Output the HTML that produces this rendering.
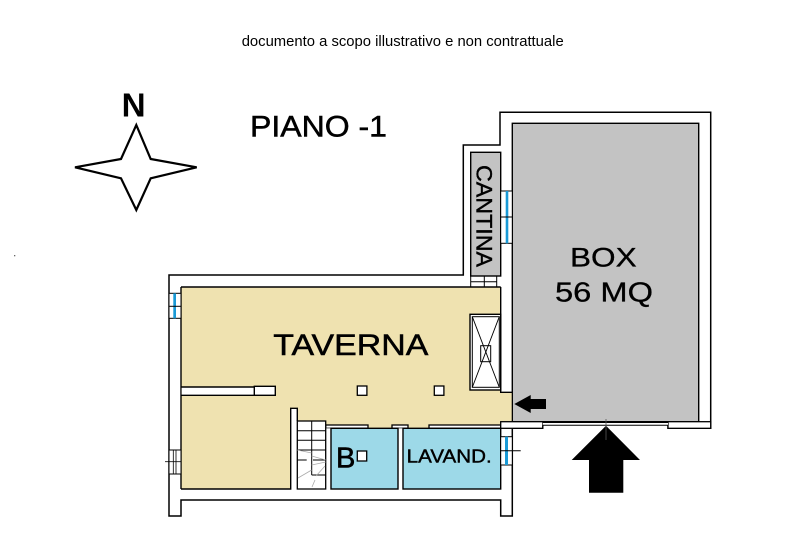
<!DOCTYPE html>
<html>
<head>
<meta charset="utf-8">
<style>
html,body{margin:0;padding:0;background:#fff;}
svg{display:block;}
text{font-family:"Liberation Sans",Arial,sans-serif;fill:#000;}
</style>
</head>
<body>
<svg width="786" height="543" viewBox="0 0 786 543" xmlns="http://www.w3.org/2000/svg">
<rect x="0" y="0" width="786" height="543" fill="#fff"/>

<!-- header text -->
<text x="241.7" y="46" font-size="15" textLength="322" lengthAdjust="spacingAndGlyphs">documento a scopo illustrativo e non contrattuale</text>

<!-- compass -->
<text x="121.7" y="116.7" font-size="33" font-weight="bold" textLength="24" lengthAdjust="spacingAndGlyphs">N</text>
<path d="M136.3,125 L150.7,159 L196.7,167.3 L150.7,178.3 L136.3,210 L121,178.3 L75,167.3 L121,159 Z" fill="#fff" stroke="#000" stroke-width="2.2" stroke-linejoin="miter"/>

<text x="250" y="136.7" font-size="30" stroke="#000" stroke-width="0.5" textLength="137" lengthAdjust="spacingAndGlyphs">PIANO -1</text>

<rect x="14" y="255" width="1.3" height="1.3" fill="#666"/>

<!-- outer outline -->
<path d="M169,275 H463.3 V145 H500 V112.3 H710.7 V428.3 H668 V421.7 H542.7 V428.3 H512.3 V516 H500.7 V500 H181 V516 H169 Z" fill="#fff" stroke="#000" stroke-width="1.5"/>

<!-- box -->
<rect x="512.3" y="123.3" width="186.4" height="298.4" fill="#c3c3c3" stroke="#000" stroke-width="1.4"/>

<!-- cantina -->
<rect x="470.7" y="152.3" width="30" height="123.7" fill="#c3c3c3" stroke="#000" stroke-width="1.4"/>
<g stroke="#000" stroke-width="1" fill="none">
<line x1="470.7" y1="276" x2="470.7" y2="287"/>
<line x1="484.3" y1="276" x2="484.3" y2="287"/>
<line x1="496.7" y1="276" x2="496.7" y2="287"/>
<line x1="470.7" y1="281.7" x2="496.7" y2="281.7"/>
</g>

<!-- beige taverna -->
<path d="M181,287 H500.7 V392.3 H512.3 V429 H297.3 V408.3 H290.7 V489 H181 Z" fill="#efe2b0"/>

<!-- taverna edges -->
<g stroke="#000" stroke-width="1.4" fill="none">
<line x1="181" y1="287" x2="500.7" y2="287"/>
<polyline points="500.7,287 500.7,392.3 512.3,392.3"/>
<line x1="181" y1="287" x2="181" y2="489"/>
<polyline points="181,489 290.7,489 290.7,408.3 297.3,408.3 297.3,421"/>
</g>

<!-- divider wall -->
<rect x="181.7" y="387" width="73" height="8.3" fill="#fff"/>
<g stroke="#000" stroke-width="1.4">
<line x1="181" y1="387" x2="254.3" y2="387"/>
<line x1="181" y1="395.3" x2="254.3" y2="395.3"/>
</g>
<rect x="254.3" y="386.3" width="21" height="9" fill="#fff" stroke="#000" stroke-width="1.4"/>

<!-- pillars -->
<rect x="357.3" y="386" width="9.6" height="9.3" fill="#fff" stroke="#000" stroke-width="1.3"/>
<rect x="434.3" y="386" width="9.6" height="9.3" fill="#fff" stroke="#000" stroke-width="1.3"/>

<!-- shaft -->
<rect x="470" y="314.3" width="30.7" height="75.7" fill="#fff" stroke="#000" stroke-width="1.4"/>
<rect x="472.3" y="316.7" width="27" height="70.6" fill="#fff" stroke="#000" stroke-width="1"/>
<g stroke="#000" stroke-width="0.9">
<line x1="472.3" y1="316.7" x2="499.3" y2="387.3"/>
<line x1="499.3" y1="316.7" x2="472.3" y2="387.3"/>
</g>
<rect x="480.7" y="345.7" width="10" height="16" fill="none" stroke="#000" stroke-width="1"/>

<!-- wall blocks between taverna and rooms -->
<rect x="325.7" y="425" width="42.3" height="3.3" fill="#fff" stroke="#000" stroke-width="1.3"/>
<rect x="392" y="425" width="16" height="3.3" fill="#fff" stroke="#000" stroke-width="1.3"/>
<rect x="429" y="425" width="71.7" height="3.3" fill="#fff" stroke="#000" stroke-width="1.3"/>

<!-- walls white below -->
<rect x="325.7" y="428.3" width="5.3" height="61" fill="#fff"/>
<rect x="398" y="428.3" width="5" height="61" fill="#fff"/>

<!-- rooms B and lavand -->
<rect x="331" y="428.3" width="67" height="60.7" fill="#9dd9e8" stroke="#000" stroke-width="1.4"/>
<rect x="403" y="428.3" width="97.7" height="60.7" fill="#9dd9e8" stroke="#000" stroke-width="1.4"/>
<rect x="357.3" y="451" width="9.4" height="10" fill="#fff" stroke="#000" stroke-width="1.3"/>

<!-- stairs -->
<rect x="297.3" y="421" width="28.4" height="68" fill="#fff" stroke="#000" stroke-width="1.3"/>
<g stroke="#000" stroke-width="1">
<line x1="297.3" y1="430.7" x2="325.7" y2="430.7"/>
<line x1="297.3" y1="440.3" x2="325.7" y2="440.3"/>
<line x1="297.3" y1="450" x2="325.7" y2="450"/>
<line x1="311.7" y1="421" x2="311.7" y2="475"/>
<line x1="311.7" y1="475" x2="325.7" y2="475"/>
<line x1="297.3" y1="460" x2="306.7" y2="460"/>
<line x1="313" y1="460" x2="325.7" y2="460"/>
</g>
<g stroke="#aaa" stroke-width="0.8">
<line x1="297.3" y1="450" x2="311.7" y2="453"/>
<line x1="311.7" y1="456" x2="325.7" y2="460"/>
<line x1="311.7" y1="465" x2="325.7" y2="462"/>
<line x1="298" y1="478" x2="311.7" y2="470"/>
<line x1="312" y1="487" x2="315" y2="480"/>
<line x1="316" y1="476" x2="325" y2="466"/>
</g>

<!-- left windows -->
<rect x="169" y="293.3" width="12" height="25" fill="#fff" stroke="#000" stroke-width="1"/>
<rect x="173.3" y="293.3" width="2.7" height="25" fill="#1a9ad6"/>
<line x1="169" y1="306.3" x2="181" y2="306.3" stroke="#000" stroke-width="1"/>
<rect x="169" y="450" width="12" height="24" fill="#fff" stroke="#000" stroke-width="1"/>
<line x1="173.3" y1="450" x2="173.3" y2="474" stroke="#000" stroke-width="0.8"/>
<line x1="176" y1="450" x2="176" y2="474" stroke="#000" stroke-width="0.8"/>
<line x1="165" y1="461.7" x2="181" y2="461.7" stroke="#000" stroke-width="0.8"/>

<!-- cantina/box window -->
<rect x="500.7" y="191" width="11.6" height="52.3" fill="#fff" stroke="#000" stroke-width="1"/>
<rect x="505.7" y="191" width="2.6" height="52.3" fill="#1a9ad6"/>
<line x1="500.7" y1="217" x2="512.3" y2="217" stroke="#000" stroke-width="1"/>

<!-- lavand window -->
<rect x="500.7" y="436.7" width="11.6" height="28.3" fill="#fff" stroke="#000" stroke-width="1"/>
<rect x="505" y="436.7" width="3" height="28.3" fill="#1a9ad6"/>
<line x1="500.7" y1="450.7" x2="520.7" y2="450.7" stroke="#000" stroke-width="1"/>

<!-- box bottom blocks and garage door -->
<rect x="500.7" y="421.7" width="42" height="6.6" fill="#fff" stroke="#000" stroke-width="1.3"/>
<rect x="668" y="421.7" width="42.7" height="6.6" fill="#fff" stroke="#000" stroke-width="1.3"/>
<rect x="542.7" y="422" width="125.3" height="3.5" fill="#fff"/>
<line x1="542.7" y1="422.5" x2="668" y2="422.5" stroke="#000" stroke-width="1"/>
<line x1="542.7" y1="425.3" x2="668" y2="425.3" stroke="#000" stroke-width="1"/>
<line x1="512.3" y1="392.3" x2="512.3" y2="421.7" stroke="#000" stroke-width="1.2"/>

<!-- arrows -->
<path d="M606,425.7 L640,460 L623.3,460 L623.3,492.7 L589,492.7 L589,460 L571.7,460 Z" fill="#000"/>
<line x1="606" y1="419" x2="606" y2="440" stroke="#555" stroke-width="0.8"/>
<path d="M514.3,404 L530.7,395 L530.7,399 L546,399 L546,409 L530.7,409 L530.7,413 Z" fill="#000"/>

<!-- labels -->
<text x="273.3" y="355" font-size="30" stroke="#000" stroke-width="0.5" textLength="155" lengthAdjust="spacingAndGlyphs">TAVERNA</text>
<text x="570" y="266.7" font-size="27" stroke="#000" stroke-width="0.3" textLength="66.7" lengthAdjust="spacingAndGlyphs">BOX</text>
<text x="555" y="301.7" font-size="28" stroke="#000" stroke-width="0.3" textLength="98" lengthAdjust="spacingAndGlyphs">56 MQ</text>
<text x="406.7" y="462.3" font-size="18" stroke="#000" stroke-width="0.4" textLength="85" lengthAdjust="spacingAndGlyphs">LAVAND.</text>
<text x="336" y="467.7" font-size="29" stroke="#000" stroke-width="0.6">B</text>
<text transform="translate(476.7,165) rotate(90)" x="0" y="0" font-size="22" stroke="#000" stroke-width="0.4" textLength="102" lengthAdjust="spacingAndGlyphs">CANTINA</text>
</svg>
</body>
</html>
